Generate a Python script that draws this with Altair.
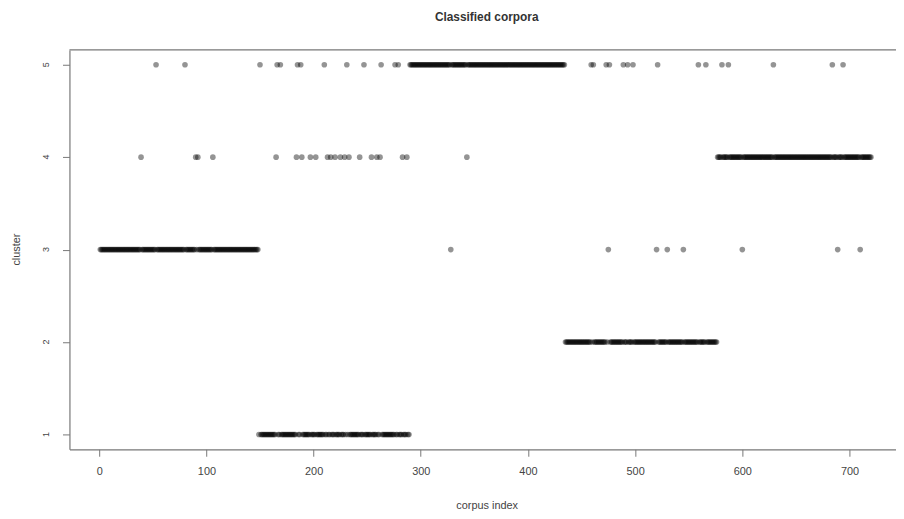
import altair as alt
import pandas as pd

# Corpus index blocks and the cluster each block mostly belongs to
block_start = [1, 149, 290, 435, 577]
block_end = [148, 289, 434, 576, 720]
block_cluster = [3, 1, 5, 2, 4]

# Isolated corpora assigned to another cluster
outliers_c5 = [53, 80, 150, 166, 169, 185, 188, 210, 231, 247, 263, 276, 279,
               459, 461, 473, 476, 489, 493, 498, 521, 559, 566, 581, 587, 629, 684, 694]
outliers_c4 = [39, 90, 92, 106, 165, 184, 189, 197, 202, 213, 216, 220, 225, 229,
               233, 243, 254, 259, 262, 283, 287, 343]
outliers_c3 = [328, 475, 520, 530, 545, 600, 689, 710]

x_ticks = [0, 100, 200, 300, 400, 500, 600, 700]
y_ticks = [1, 2, 3, 4, 5]
x_domain = [-27.8, 743.4]
y_domain = [0.84, 5.16]

exceptions = {}
for c, lst in ((5, outliers_c5), (4, outliers_c4), (3, outliers_c3)):
    for i in lst:
        exceptions[i] = c

rows = []
for s, e, c in zip(block_start, block_end, block_cluster):
    for i in range(s, e + 1):
        rows.append({"index": i, "cluster": exceptions.get(i, c)})
df = pd.DataFrame(rows)

FONT = "Liberation Sans"
LINE = "#777"

yscale = alt.Scale(domain=y_domain, nice=False, zero=False)

points = alt.Chart(df).mark_point(
    shape="circle", filled=True, size=32, color="#000", opacity=0.42
).encode(
    x=alt.X("index:Q",
            scale=alt.Scale(domain=x_domain, nice=False, zero=False),
            axis=alt.Axis(values=x_ticks, format="d", title="corpus index", grid=False,
                          domain=True, domainColor=LINE, domainWidth=1.2,
                          tickColor=LINE, tickSize=7, labelFontSize=11, labelColor="#444",
                          labelFont=FONT, labelPadding=9, titleFont=FONT, titleFontSize=11,
                          titleFontWeight="normal", titleColor="#444",
                          titleX=421, titleY=57, titleBaseline="middle", titleAlign="center")),
    y=alt.Y("cluster:Q", scale=yscale,
            axis=alt.Axis(values=y_ticks, labels=False, title="cluster", grid=False,
                          domain=True, domainColor=LINE, domainWidth=1.2,
                          tickColor=LINE, tickSize=7,
                          titleFont=FONT, titleFontSize=11, titleFontWeight="normal",
                          titleColor="#444", titleAngle=-90, titleX=-53, titleY=201,
                          titleAlign="center", titleBaseline="middle")),
)

y_labels = alt.Chart(pd.DataFrame({"c": y_ticks})).mark_text(
    angle=270, fontSize=9, font=FONT, color="#444", align="center", baseline="middle"
).encode(
    y=alt.Y("c:Q", scale=yscale),
    x=alt.value(-24),
    text=alt.Text("c:Q", format="d"),
)

top_line = alt.Chart(pd.DataFrame({"y": [y_domain[1]]})).mark_rule(
    color=LINE, strokeWidth=1.2
).encode(y=alt.Y("y:Q", scale=yscale))

chart = alt.layer(points, y_labels, top_line).properties(
    width=834, height=403,
    title=alt.TitleParams("Classified corpora", fontSize=12, fontWeight="bold",
                          font=FONT, color="#333", anchor="middle", offset=26, dx=4),
    autosize="none",
    padding={"left": 62, "top": 40, "right": 0, "bottom": 60},
).configure_view(strokeWidth=0)

chart.save("out.html", embed_options={"renderer": "svg", "actions": False})
